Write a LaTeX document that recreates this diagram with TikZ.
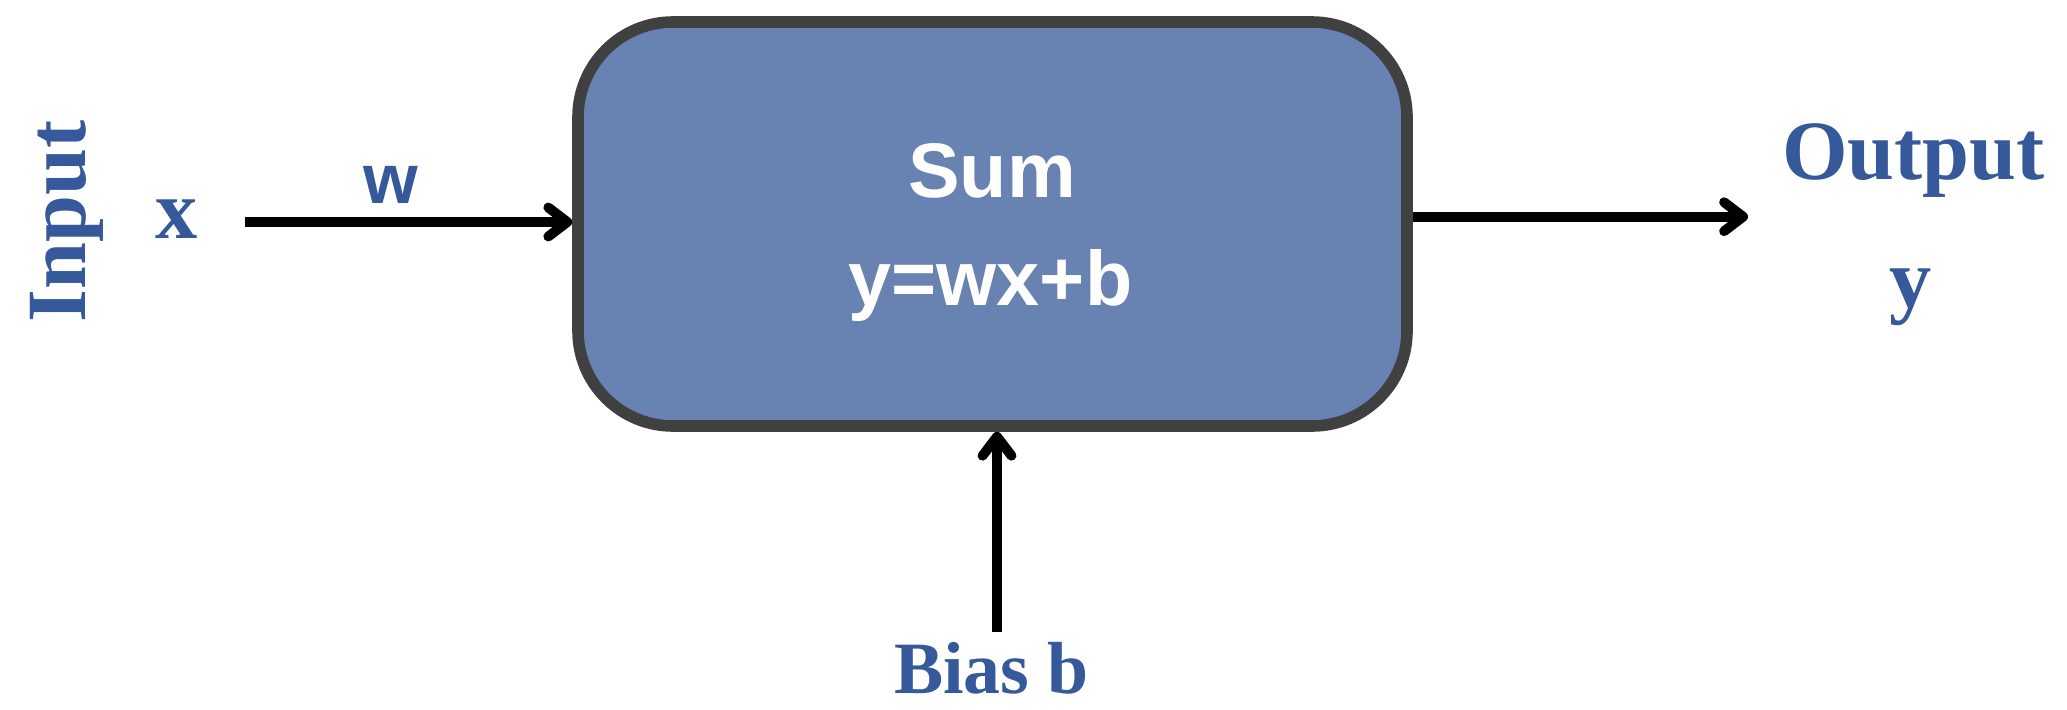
\documentclass[tikz,border=0pt]{standalone}
\usepackage{fontspec}
\setmainfont{Liberation Serif}
\setsansfont{Liberation Sans}
\usepackage{xcolor}
\usepackage{tikz}
\usetikzlibrary{calc,arrows.meta}

\definecolor{boxfill}{RGB}{104,130,178}
\definecolor{boxline}{RGB}{64,64,64}
\definecolor{lblblue}{RGB}{53,89,154}

\begin{document}
\begin{tikzpicture}[
		flow/.style={line width=2.8pt,-{Straight Barb[length=1.9mm,width=2.9mm,line cap=round,line join=round]}},
		lbl/.style={text=lblblue,font=\bfseries\fontsize{24}{28}\selectfont,inner sep=0pt,anchor=base},
		inlbl/.style={text=white,font=\sffamily\bfseries\fontsize{22}{26}\selectfont,inner sep=0pt,anchor=base}]
			\useasboundingbox (0,0) rectangle (20.67,7.09);
			
			\node[draw=boxline,fill=boxfill,line width=3.3pt,rounded corners=0.95cm,
			minimum width=8.29cm,minimum height=4.04cm] (sum) at (9.925,4.85) {};
			\node[inlbl] (sumtxt) at (9.92,5.12) {Sum};
			\node[inlbl] (eqtxt) at (9.905,4.04) {y=wx+b};
			
			\node[lbl,rotate=90] (input) at (0.85,4.875) {Input};
			\node[lbl] (xin) at (1.77,4.71) {x};
			\node[lbl] (output) at (19.135,5.30) {Output};
			\node[lbl] (yout) at (19.11,4.02) {y};
			\node[lbl,font=\bfseries\fontsize{21}{25}\selectfont] (bias) at (9.915,0.16) {Bias b};
			
			\coordinate (win) at (2.45,4.87);
			\coordinate (wout) at (17.48,4.923);
			\coordinate (bin) at (9.97,0.77);
			
			\draw[flow] (win) -- (sum.west |- win)
			node[inlbl,text=lblblue,font=\sffamily\bfseries\fontsize{20}{24}\selectfont,pos=0.447,yshift=0.19cm] (wlbl) {w};
			\draw[flow] (sum.east |- wout) -- (wout);
			\draw[flow] (bin) -- (sum.south -| bin);
		\end{tikzpicture}
\end{document}
